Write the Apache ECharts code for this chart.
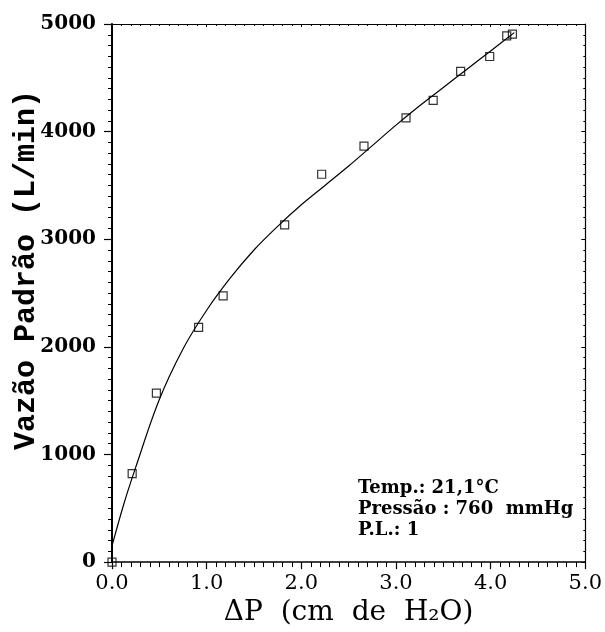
<!DOCTYPE html>
<html>
<head>
<meta charset="utf-8">
<script src="https://cdn.jsdelivr.net/npm/echarts@6/dist/echarts.min.js"></script>
<style>
  html, body { margin: 0; padding: 0; background: #fff; }
  #chart { width: 605px; height: 632px; }
</style>
</head>
<body>
<div id="chart"></div>
<script>
// Observed points (ΔP in cm H2O, standard flow in L/min)
const obsDeltaP = [0, 0.213, 0.469, 0.915, 1.174, 1.824, 2.215, 2.662, 3.106, 3.393, 3.683, 3.99, 4.17, 4.23];
const obsFlow   = [0, 823, 1571, 2181, 2474, 3133, 3604, 3866, 4128, 4291, 4559, 4698, 4890, 4905];

// Fitted calibration curve
const fitDeltaP = [0, 0.125, 0.25, 0.5, 0.75, 1.0, 1.25, 1.5, 1.75, 2.0, 2.25, 2.5, 2.75, 3.0, 3.25, 3.5, 3.75, 4.0, 4.25];
const fitFlow   = [150, 540, 880, 1510, 1980, 2340, 2640, 2900, 3120, 3320, 3500, 3680, 3870, 4060, 4240, 4410, 4580, 4750, 4920];

// Axis ticks
const xTicks = { min: 0, max: 5, step: 1 };
const yTicks = { min: 0, max: 5000, step: 1000 };

// Annotation lines
const noteLines = ['Temp.: 21,1°C', 'Pressão : 760  mmHg', 'P.L.: 1'];

const xTitle = 'ΔP  (cm  de  H₂O)';
const yTitle = 'Vazão Padrão (L/min)';

const chart = echarts.init(document.getElementById('chart'), null, { renderer: 'canvas' });

const serif = 'DejaVu Serif';
const black = '#000';

const option = {
  backgroundColor: '#fff',
  animation: false,
  grid: { left: 112, right: 16, top: 24, bottom: 67, containLabel: false },
  xAxis: [
    {
      type: 'value', position: 'bottom',
      min: xTicks.min, max: xTicks.max, interval: xTicks.step,
      axisLine: { show: true, onZero: false, lineStyle: { color: black, width: 1.5 } },
      axisTick: { show: true, inside: false, length: 7, lineStyle: { color: black, width: 1.2 } },
      minorTick: { show: true, splitNumber: 10, length: 5, lineStyle: { color: black, width: 1 } },
      axisLabel: {
        margin: 11, color: black, fontFamily: serif, fontSize: 21,
        formatter: v => v.toFixed(1)
      },
      splitLine: { show: false },
      name: xTitle, nameLocation: 'middle', nameGap: 30,
      nameTextStyle: { color: black, fontFamily: serif, fontSize: 28 }
    },
    {
      type: 'value', position: 'top',
      min: xTicks.min, max: xTicks.max, interval: xTicks.step,
      axisLine: { show: true, onZero: false, lineStyle: { color: black, width: 1 } },
      axisTick: { show: true, inside: true, length: 3, lineStyle: { color: black, width: 1 } },
      minorTick: { show: true, splitNumber: 10, length: 2, lineStyle: { color: black, width: 1 } },
      axisLabel: { show: false },
      splitLine: { show: false }
    }
  ],
  yAxis: [
    {
      type: 'value', position: 'left',
      min: yTicks.min, max: yTicks.max, interval: yTicks.step,
      axisLine: { show: true, onZero: false, lineStyle: { color: black, width: 2 } },
      axisTick: { show: true, inside: false, length: 8, lineStyle: { color: black, width: 1.2 } },
      minorTick: { show: true, splitNumber: 10, length: 4, lineStyle: { color: black, width: 1 } },
      axisLabel: {
        margin: 16, color: black, fontFamily: serif, fontWeight: 'bold', fontSize: 20,
        formatter: v => String(v)
      },
      splitLine: { show: false }
    },
    {
      type: 'value', position: 'right',
      min: yTicks.min, max: yTicks.max, interval: yTicks.step,
      axisLine: { show: true, onZero: false, lineStyle: { color: black, width: 1.2 } },
      axisTick: { show: true, inside: true, length: 4, lineStyle: { color: black, width: 1 } },
      minorTick: { show: true, splitNumber: 10, length: 2, lineStyle: { color: black, width: 1 } },
      axisLabel: { show: false },
      splitLine: { show: false }
    }
  ],
  series: [
    {
      type: 'line', xAxisIndex: 0, yAxisIndex: 0,
      data: fitDeltaP.map((x, i) => [x, fitFlow[i]]),
      smooth: 0.35, showSymbol: false, symbol: 'none',
      lineStyle: { color: black, width: 1.2 },
      z: 2
    },
    {
      type: 'scatter', xAxisIndex: 0, yAxisIndex: 0,
      data: obsDeltaP.map((x, i) => [x, obsFlow[i]]),
      symbol: 'rect', symbolSize: 8,
      itemStyle: { color: 'rgba(0,0,0,0)', borderColor: black, borderWidth: 1.2 },
      z: 3
    }
  ],
  graphic: [
    {
      type: 'text', x: 26, y: 270, rotation: Math.PI / 2,
      style: {
        text: yTitle, fill: black,
        font: 'bold 30px "Liberation Mono", "DejaVu Sans Mono", monospace',
        textAlign: 'center', textVerticalAlign: 'middle'
      }
    },
    {
      type: 'text', left: 358, top: 478,
      style: {
        text: noteLines.join('\n'), fill: black,
        font: 'bold 18px "DejaVu Serif", serif',
        lineHeight: 21
      }
    }
  ]
};

chart.setOption(option);
</script>
</body>
</html>
